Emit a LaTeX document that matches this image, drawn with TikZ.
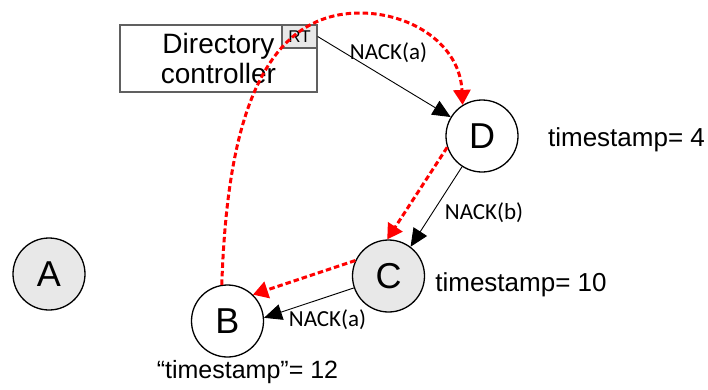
\documentclass[tikz,border=0pt]{standalone}
\usepackage{fontspec}
\setmainfont{Liberation Sans}
\newfontfamily\nackfont{Carlito}
\usetikzlibrary{arrows.meta}
\definecolor{nodegray}{HTML}{E8E8E8}
\definecolor{boxline}{HTML}{606060}
\tikzset{
  proc/.style={circle, draw=black, line width=1.3pt, minimum size=72pt, inner sep=0pt,
    font=\fontsize{36}{38}\selectfont},
  busy/.style={proc, fill=nodegray},
  idle/.style={proc, fill=white},
  tslabel/.style={font=\fontsize{26}{28}\selectfont, inner sep=0pt},
  nacklabel/.style={font=\nackfont\fontsize{23}{25}\selectfont, inner sep=0pt},
  nack/.style={line width=0.9pt, -{Triangle[length=18pt,width=16pt]}},
  probe/.style={red, line width=3pt, dash pattern=on 5.5pt off 3pt,
    -{Triangle[length=15pt,width=17pt]}}
}
\begin{document}
\begin{tikzpicture}[x=1pt,y=-1pt]
\useasboundingbox (0,0) rectangle (708,389);

% directory controller with its RT tag
\node[draw=boxline, line width=1.5pt, minimum width=197pt, minimum height=67pt,
  inner sep=0pt, align=center, font=\fontsize{28}{30}\selectfont] (dir) at (218.5,58.5)
  {Directory\\controller};
\node[draw=boxline, line width=1.3pt, fill=nodegray, minimum width=35pt, minimum height=23pt,
  inner sep=0pt, font=\fontsize{17}{18}\selectfont] (rt) at (299.5,36.5) {RT};

% processors
\node[busy] (A) at (49,274) {A};
\node[idle] (B) at (227.5,321) {B};
\node[busy] (C) at (388.5,276) {C};
\node[idle] (D) at (482,136) {D};

% timestamps
\node[tslabel] (tsD) at (626.5,140) {timestamp= 4};
\node[tslabel] (tsC) at (521,285) {timestamp= 10};
\node[tslabel, font=\fontsize{25}{27}\selectfont] (tsB) at (247.5,372) {“timestamp”= 12};

% NACK messages
\draw[nack] (rt.east) -- (D);
\draw[nack] (D.-123) -- (C.53);
\draw[nack] (C.-161) -- (B.5);
\node[nacklabel] (n1) at (388.5,53) {NACK(a)};
\node[nacklabel] (n2) at (484,213) {NACK(b)};
\node[nacklabel] (n3) at (327.5,320) {NACK(a)};

% probe cycle
\draw[probe] (B.99) .. controls (226,166) and (245,13) .. (360,13)
  .. controls (412,13) and (460,45) .. (D.122);
\draw[probe] (D.-162) -- (C.92);
\draw[probe] (C.155) -- (B.46);
\end{tikzpicture}
\end{document}
